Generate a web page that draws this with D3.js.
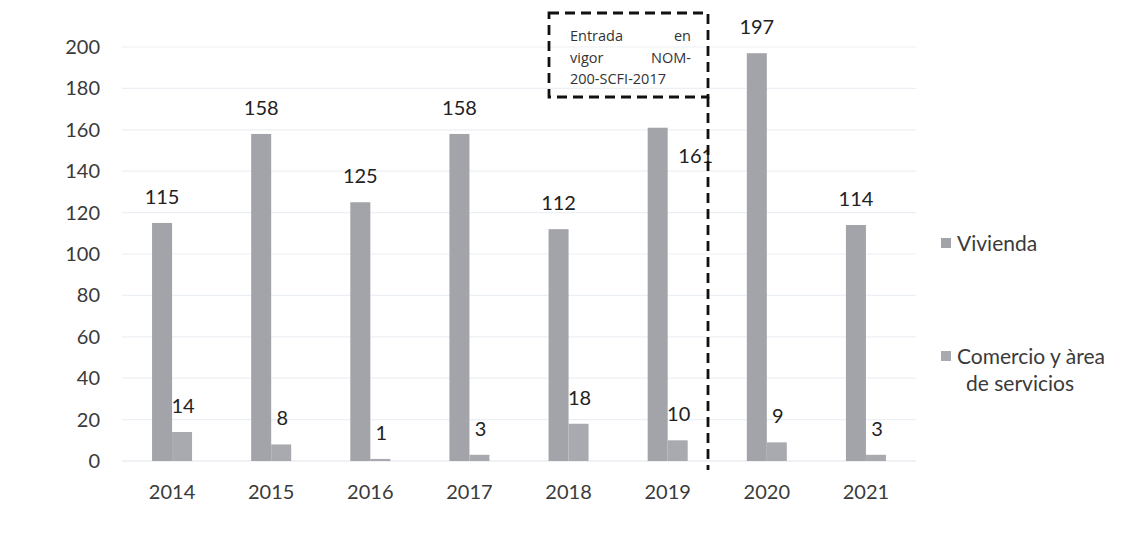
<!DOCTYPE html>
<html><head><meta charset="utf-8">
<script src="https://cdn.jsdelivr.net/npm/d3@7"></script>
<style>body{margin:0;background:#fff}</style>
</head><body>
<svg id="c" width="1134" height="535"></svg>
<script>
const years = ["2014","2015","2016","2017","2018","2019","2020","2021"];
const vivienda = [115,158,125,158,112,161,197,114];
const comercio = [14,8,1,3,18,10,9,3];
const yTicks = [0,20,40,60,80,100,120,140,160,180,200];
const seriesNames = ["Vivienda","Comercio y àrea de servicios"];
const noteLines = [["Entrada","en"],["vigor","NOM-"],["200-SCFI-2017"]];

const svg = d3.select("#c");
const font = "Lato, 'Open Sans', sans-serif";
const colV = "#a2a4a9", colC = "#a8aaaf";
const x = d3.scaleBand().domain(years).range([122.5, 915.5]);
const y = d3.scaleLinear().domain([0,200]).range([461,47]);
const bw = 20;

// gridlines
svg.append("g").selectAll("line").data(yTicks).join("line")
  .attr("x1",122).attr("x2",916).attr("y1",d=>y(d)).attr("y2",d=>y(d))
  .attr("stroke",d=>d===0?"#dfe4ea":"#eceff3").attr("stroke-width",1.2);

// y axis labels
const yAxis = svg.append("g").attr("transform","translate(100,0)")
  .call(d3.axisLeft(y).tickValues(yTicks).tickSize(0).tickPadding(0));
yAxis.select(".domain").remove();
yAxis.selectAll("text").attr("font-family",font).attr("font-size",20).attr("fill","#3a3a3a");

// x axis labels
const xAxis = svg.append("g").attr("transform","translate(0,482)")
  .call(d3.axisBottom(x).tickSize(0).tickPadding(0));
xAxis.select(".domain").remove();
xAxis.selectAll("text").attr("font-family",font).attr("font-size",20).attr("fill","#3a3a3a").attr("dy","0.85em");

const cx = d => x(d) + x.bandwidth()/2;

// bars
svg.append("g").selectAll("rect").data(years).join("rect")
  .attr("x",d=>cx(d)-bw).attr("width",bw)
  .attr("y",(d,i)=>y(vivienda[i])).attr("height",(d,i)=>y(0)-y(vivienda[i]))
  .attr("fill",colV);
svg.append("g").selectAll("rect").data(years).join("rect")
  .attr("x",d=>cx(d)).attr("width",bw)
  .attr("y",(d,i)=>y(comercio[i])).attr("height",(d,i)=>y(0)-y(comercio[i]))
  .attr("fill",colC);

// value labels
svg.append("g").selectAll("text").data(years).join("text")
  .attr("x",(d,i)=> i===5 ? cx(d)+28 : cx(d)-10)
  .attr("y",(d,i)=> i===5 ? y(vivienda[i])+35 : y(vivienda[i])-19)
  .attr("text-anchor","middle").attr("font-family",font).attr("font-size",20).attr("fill","#222")
  .text((d,i)=>vivienda[i]);
svg.append("g").selectAll("text").data(years).join("text")
  .attr("x",d=>cx(d)+11).attr("y",(d,i)=>y(comercio[i])-19)
  .attr("text-anchor","middle").attr("font-family",font).attr("font-size",20).attr("fill","#222")
  .text((d,i)=>comercio[i]);

// annotation box
const bx0=549, bx1=708, by0=13, by1=97;
svg.append("rect").attr("x",bx0).attr("y",by0).attr("width",bx1-bx0).attr("height",by1-by0)
  .attr("fill","none").attr("stroke","#111").attr("stroke-width",2.8).attr("stroke-dasharray","10,6");
svg.append("line").attr("x1",bx1).attr("x2",bx1).attr("y1",by1).attr("y2",470)
  .attr("stroke","#111").attr("stroke-width",2.8).attr("stroke-dasharray","10,6");
const tl=570, tr=691;
noteLines.forEach((ln,i)=>{
  const yy = 41 + i*21.5;
  svg.append("text").attr("x",tl).attr("y",yy).attr("font-family","'Open Sans', sans-serif")
    .attr("font-size",14.5).attr("fill","#333").text(ln[0]);
  if(ln[1]) svg.append("text").attr("x",tr).attr("y",yy).attr("text-anchor","end")
    .attr("font-family","'Open Sans', sans-serif").attr("font-size",14.5).attr("fill","#333").text(ln[1]);
});

// legend
const lg = svg.append("g");
lg.append("rect").attr("x",941).attr("y",238).attr("width",10).attr("height",10).attr("fill",colV);
lg.append("text").attr("x",957).attr("y",251).attr("font-family",font).attr("font-size",21).attr("fill","#3a3a3a").text(seriesNames[0]);
lg.append("rect").attr("x",941).attr("y",351).attr("width",10).attr("height",10).attr("fill",colC);
lg.append("text").attr("x",957).attr("y",364).attr("font-family",font).attr("font-size",21).attr("fill","#3a3a3a").text("Comercio y àrea");
lg.append("text").attr("x",966).attr("y",391).attr("font-family",font).attr("font-size",21).attr("fill","#3a3a3a").text("de servicios");
</script>
</body></html>
